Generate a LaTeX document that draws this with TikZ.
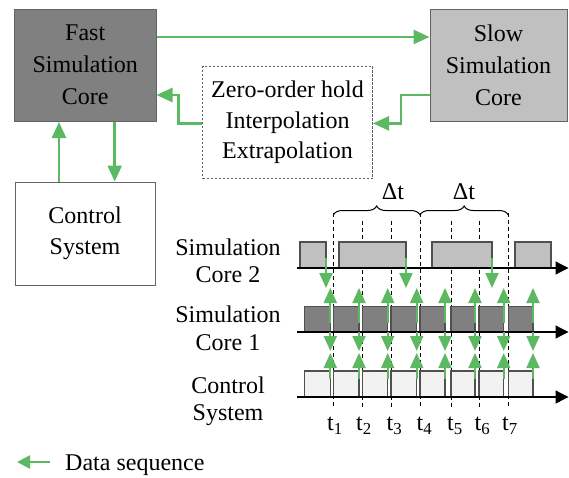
\documentclass[tikz,border=0pt]{standalone}
\usepackage{fontspec}
\setmainfont{Liberation Serif}
\usetikzlibrary{arrows.meta,decorations.pathreplacing}
\definecolor{dgreen}{RGB}{92,185,98}
\definecolor{fastgray}{RGB}{128,128,128}
\definecolor{slowgray}{RGB}{192,192,192}
\definecolor{ctrlgray}{RGB}{242,242,242}
\definecolor{edgegray}{RGB}{100,100,100}
\definecolor{blkedge}{RGB}{80,80,80}
\tikzset{
  box/.style={draw=edgegray, line width=1pt, align=center, inner sep=0pt},
  bigtxt/.style={font=\fontsize{24}{32}\selectfont},
  midtxt/.style={font=\fontsize{24}{30.5}\selectfont},
  labtxt/.style={font=\fontsize{24}{27.5}\selectfont, align=center, inner sep=0pt},
  garr/.style={draw=dgreen, line width=2.6pt, -{Triangle[length=16pt,width=14pt]}},
  tarr/.style={draw=dgreen, line width=2pt, -{Triangle[length=15pt,width=13pt]}},
  dline/.style={draw=black, line width=0.9pt, dash pattern=on 4pt off 3pt},
  blk/.style={draw=blkedge, line width=1.2pt},
  axisline/.style={draw=black, line width=1.3pt, -{Triangle[length=13pt,width=13pt]}},
  bracestyle/.style={decorate, decoration={brace, amplitude=9pt}, line width=1pt}
}
\begin{document}
\begin{tikzpicture}[x=1pt,y=-1pt]
\useasboundingbox (0,0) rectangle (569,477);

% ---------- top block diagram ----------
\node[box, bigtxt, fill=fastgray, minimum width=141.5pt, minimum height=112.5pt] (fast) at (85.25,65.25) {Fast\\Simulation\\Core};
\node[box, bigtxt, fill=slowgray, minimum width=137pt, minimum height=112.5pt] (slow) at (498.5,65.25) {Slow\\Simulation\\Core};
\node[box, midtxt, dashed, dash pattern=on 2.5pt off 1.5pt, fill=white, minimum width=170pt, minimum height=112.5pt] (hold) at (287.5,122.25) {Zero-order hold\\Interpolation\\Extrapolation};
\node[box, midtxt, fill=white, minimum width=140pt, minimum height=103pt] (ctrl) at (85,233.5) {Control\\System};

\coordinate (yA) at (0,37);
\coordinate (yB) at (0,95);
\coordinate (yC) at (0,123.4);
\coordinate (xB) at (401,0);
\coordinate (xC) at (178.5,0);
\coordinate (xD) at (114.7,0);
\coordinate (xE) at (59,0);

\draw[garr] (fast.east |- yA) -- (slow.west |- yA);
\draw[garr] (slow.west |- yB) -- (xB |- yB) -- (xB |- yC) -- (hold.east |- yC);
\draw[garr] (hold.west |- yC) -- (xC |- yC) -- (xC |- yB) -- (fast.east |- yB);
\draw[garr] (xD |- fast.south) -- (xD |- ctrl.north);
\draw[garr] (xE |- ctrl.north) -- (xE |- fast.south);

% ---------- timing diagram ----------
\node[labtxt] (lab2) at (228,261) {Simulation\\Core 2};
\node[labtxt] (lab1) at (228,328.5) {Simulation\\Core 1};
\node[labtxt] (lab0) at (228,401.5) {Control\\System};

% dashed time lines
\foreach \x in {333.3,420,508.3} \draw[dline] (\x,213) -- (\x,408);
\foreach \x in {362.7,391,451,479} \draw[dline] (\x,221) -- (\x,408);

% braces
\draw[bracestyle] (333.3,215) -- (420,215);
\draw[bracestyle] (420,215) -- (508.3,215);
\node[bigtxt] (dt1) at (393,192) {Δt};
\node[bigtxt] (dt2) at (464,192) {Δt};

% core 2 blocks
\foreach \a/\b in {300/326, 339/406, 432/492, 515/551}
  \draw[blk, fill=slowgray] (\a,242) rectangle (\b,268);
% core 1 and control blocks
\foreach \a/\b in {304.3/330.3, 333.3/359, 362.7/387.7, 391/416.7, 420/445, 451/475, 479/503.7, 508.3/533} {
  \draw[blk, fill=fastgray] (\a,306.7) rectangle (\b,332);
  \draw[blk, fill=ctrlgray] (\a,371) rectangle (\b,397);
}

% axes
\draw[axisline] (297,268) -- (568.5,268);
\draw[axisline] (297,332) -- (568.5,332);
\draw[axisline] (297,397) -- (568.5,397);

% data arrows
\foreach \x in {326,406,492} \draw[tarr] (\x,258) -- (\x,288);
\foreach \x in {330.3,359,387.7,416.7,445,475,503.7,533} {
  \draw[tarr] (\x,323) -- (\x,288);
  \draw[tarr] (\x,332) -- (\x,351);
  \draw[tarr] (\x,379) -- (\x,353);
}

% time labels
\node[bigtxt, inner sep=0pt] (t1) at (335,426) {t\textsubscript{1}};
\node[bigtxt, inner sep=0pt] (t2) at (364,426) {t\textsubscript{2}};
\node[bigtxt, inner sep=0pt] (t3) at (394.5,426) {t\textsubscript{3}};
\node[bigtxt, inner sep=0pt] (t4) at (424.5,426) {t\textsubscript{4}};
\node[bigtxt, inner sep=0pt] (t5) at (455,426) {t\textsubscript{5}};
\node[bigtxt, inner sep=0pt] (t6) at (482.5,426) {t\textsubscript{6}};
\node[bigtxt, inner sep=0pt] (t7) at (510,426) {t\textsubscript{7}};

% legend
\coordinate (legA) at (50,462);
\coordinate (legB) at (17,462);
\draw[draw=dgreen, line width=2.6pt, -{Triangle[length=13pt,width=13pt]}] (legA) -- (legB);
\node[bigtxt, inner sep=0pt, anchor=base west] (leg) at (65,470) {Data sequence};
\end{tikzpicture}
\end{document}
